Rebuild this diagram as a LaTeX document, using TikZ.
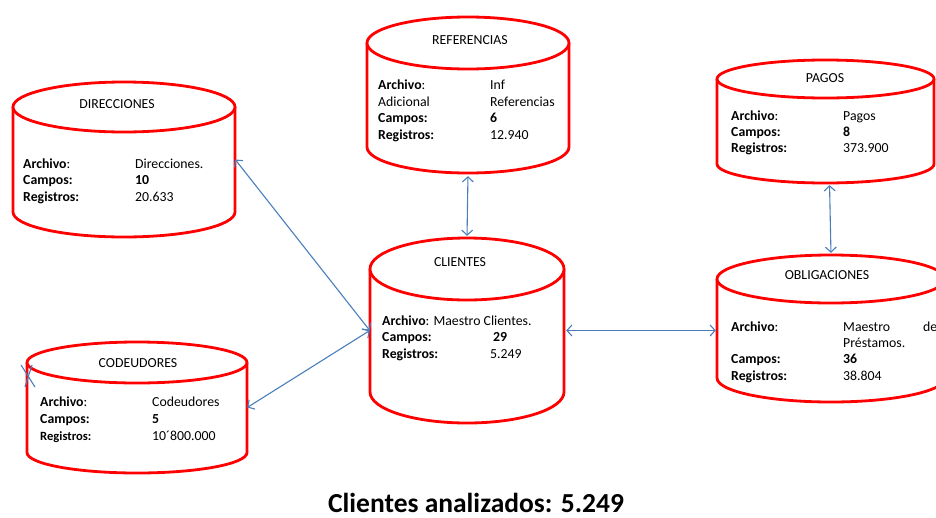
\documentclass[tikz,border=0pt]{standalone}
\usepackage{fontspec}
\setmainfont{Carlito}
\usetikzlibrary{arrows.meta}
\definecolor{cylred}{RGB}{255,0,0}
\definecolor{linkblue}{RGB}{74,126,187}
\tikzset{
  cyl/.style={draw=cylred, line width=2.8pt, fill=white},
  cylbox/.style={draw=none, inner sep=0pt, rectangle},
  txt/.style={inner sep=0pt, anchor=base west, font=\fontsize{13.8}{16}\selectfont},
  ttl/.style={inner sep=0pt, anchor=base, font=\fontsize{13.8}{16}\selectfont},
  link/.style={draw=linkblue, line width=1.1pt, {Straight Barb[length=5pt,width=11pt]}-{Straight Barb[length=5pt,width=11pt]}}
}
% #1 name, #2 left, #3 right, #4 top, #5 bottom, #6 ry
\newcommand\dbcyl[6]{%
  \pgfmathsetmacro\dbcx{(#2+#3)/2}%
  \pgfmathsetmacro\dbrx{(#3-#2)/2}%
  \pgfmathsetmacro\dbtc{#4+#6}%
  \pgfmathsetmacro\dbbc{#5-#6}%
  \pgfmathsetmacro\dbmid{(#4+#5)/2}%
  \pgfmathsetmacro\dbhh{#5-#4}%
  \draw[cyl] (#2,\dbtc) -- (#2,\dbbc) arc[start angle=180,end angle=360,x radius=\dbrx pt,y radius=#6 pt] -- (#3,\dbtc);
  \draw[cyl] (\dbcx,\dbtc) ellipse[x radius=\dbrx pt,y radius=#6 pt];
  \node[cylbox, minimum width=\dbrx*2 pt, minimum height=\dbhh pt] (#1) at (\dbcx,\dbmid) {};
}
\begin{document}
\begin{tikzpicture}[x=1pt,y=-1pt]
\useasboundingbox (0,0) rectangle (936,517);
\clip (0,0) rectangle (936,517);

% cylinders
\dbcyl{dir}{13}{235}{82}{237}{25}
\dbcyl{ref}{367}{569}{17}{173}{26}
\dbcyl{pag}{717}{934}{60}{183}{19}
\dbcyl{cli}{370}{564}{238}{423}{31}
\dbcyl{obl}{717}{945}{255}{402}{24}
\dbcyl{cod}{27}{247}{342}{473}{20.5}

% DIRECCIONES
\node[ttl] (dirT) at (117,108) {DIRECCIONES};
\node[txt] (dirL1) at (23,168) {\textbf{Archivo}:};
\node[txt] (dirL2) at (23,184.5) {\textbf{Campos:}};
\node[txt] (dirL3) at (23,201.5) {\textbf{Registros:}};
\node[txt] (dirV1) at (135,168) {Direcciones.};
\node[txt] (dirV2) at (135,184.5) {\textbf{10}};
\node[txt] (dirV3) at (135,201.5) {20.633};

% REFERENCIAS
\node[ttl] (refT) at (470,44.5) {REFERENCIAS};
\node[txt] (refL1) at (378,89.5) {\textbf{Archivo}:};
\node[txt] (refL2) at (378,106.5) {Adicional};
\node[txt] (refL3) at (378,122.5) {\textbf{Campos:}};
\node[txt] (refL4) at (378,139.5) {\textbf{Registros:}};
\node[txt] (refV1) at (490,89.5) {Inf};
\node[txt] (refV2) at (490,106.5) {Referencias};
\node[txt] (refV3) at (490,122.5) {\textbf{6}};
\node[txt] (refV4) at (490,139.5) {12.940};

% PAGOS
\node[ttl] (pagT) at (825,82.5) {PAGOS};
\node[txt] (pagL1) at (731,120.5) {\textbf{Archivo}:};
\node[txt] (pagL2) at (731,136.5) {\textbf{Campos:}};
\node[txt] (pagL3) at (731,152.5) {\textbf{Registros:}};
\node[txt] (pagV1) at (843,120.5) {Pagos};
\node[txt] (pagV2) at (843,136.5) {\textbf{8}};
\node[txt] (pagV3) at (843,152.5) {373.900};

% CLIENTES
\node[ttl] (cliT) at (460,266.5) {CLIENTES};
\node[txt] (cliL1) at (382,325.5) {\textbf{Archivo}: Maestro Clientes.};
\node[txt] (cliL2) at (382,341.5) {\textbf{Campos:}};
\node[txt] (cliL3) at (382,358.5) {\textbf{Registros:}};
\node[txt] (cliV2) at (493,341.5) {\textbf{29}};
\node[txt] (cliV3) at (490,358.5) {5.249};

% OBLIGACIONES
\node[ttl] (oblT) at (827,279.5) {OBLIGACIONES};
\node[txt] (oblL1) at (731,331.5) {\textbf{Archivo}:};
\node[txt] (oblL3) at (731,363.5) {\textbf{Campos:}};
\node[txt] (oblL4) at (731,380.5) {\textbf{Registros:}};
\node[txt] (oblV1) at (843,331.5) {\makebox[94pt][l]{Maestro\hfill de}};
\node[txt] (oblV2) at (843,347.5) {Préstamos.};
\node[txt] (oblV3) at (843,363.5) {\textbf{36}};
\node[txt] (oblV4) at (843,380.5) {38.804};

% CODEUDORES
\node[ttl] (codT) at (138,367.5) {CODEUDORES};
\node[txt] (codL1) at (40,406.5) {\textbf{Archivo}:};
\node[txt] (codL2) at (40,423.5) {\textbf{Campos:}};
\node[txt, font=\fontsize{12.6}{15}\selectfont] (codL3) at (40,440.5) {\textbf{Registros:}};
\node[txt] (codV1) at (152,406.5) {Codeudores};
\node[txt] (codV2) at (152,423.5) {\textbf{5}};
\node[txt] (codV3) at (152,440.5) {10´800.000};

% connectors
\draw[link] (dir.east) -- (cli.west);
\draw[link] (cod.east) -- (cli.west);
\draw[link, shorten <=3pt, shorten >=2pt] (ref.south) -- (cli.north);
\draw[link, shorten <=2pt, shorten >=2pt] ([xshift=4pt]pag.south) -- (obl.north);
\draw[link, shorten <=2pt, shorten >=1pt] (cli.east) -- (cli.east -| obl.west);

% stray mark at CODEUDORES
\coordinate (m1) at (21,365);
\coordinate (m2) at (35,387);
\coordinate (m3) at (32,365);
\coordinate (m4) at (25,387);
\draw[linkblue, line width=1.1pt] (m1) -- (m2) (m3) -- (m4);

% caption
\node[inner sep=0pt, anchor=base, font=\fontsize{27.5}{32}\bfseries] (cap) at (476,512) {Clientes analizados: 5.249};
\end{tikzpicture}
\end{document}
